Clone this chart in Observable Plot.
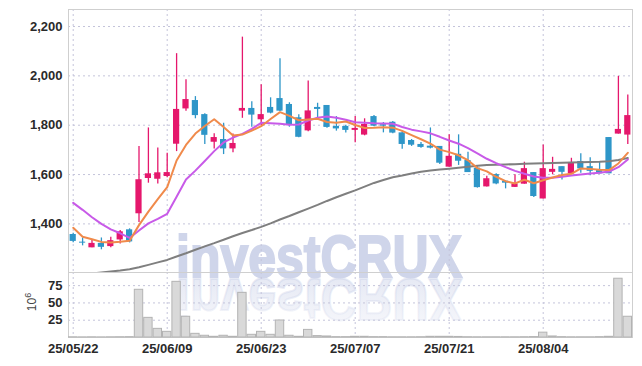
<!DOCTYPE html>
<html><head><meta charset="utf-8">
<script src="https://cdn.jsdelivr.net/npm/d3@7"></script>
<script src="https://cdn.jsdelivr.net/npm/@observablehq/plot@0.6"></script>
<style>
body{margin:0;background:#fff;}
#wrap{position:relative;width:642px;height:366px;overflow:hidden;}
#wm{position:absolute;left:0;top:0;}
#charts{position:absolute;left:0;top:0;}
#charts svg{display:block;background:transparent;}
</style></head>
<body><div id="wrap"><svg id="wm" width="642" height="366"></svg><div id="charts"></div></div>
<script>
const dates = ["25/05/22","25/05/23","25/05/26","25/05/27","25/05/28","25/05/29","25/05/30","25/06/02","25/06/04","25/06/05",
"25/06/09","25/06/10","25/06/11","25/06/12","25/06/13","25/06/16","25/06/17","25/06/18","25/06/19","25/06/20",
"25/06/23","25/06/24","25/06/25","25/06/26","25/06/27","25/06/30","25/07/01","25/07/02","25/07/03","25/07/04",
"25/07/07","25/07/08","25/07/09","25/07/10","25/07/11","25/07/14","25/07/15","25/07/16","25/07/17","25/07/18",
"25/07/21","25/07/22","25/07/23","25/07/24","25/07/25","25/07/28","25/07/29","25/07/30","25/07/31","25/08/01",
"25/08/04","25/08/05","25/08/06","25/08/07","25/08/08","25/08/11","25/08/12","25/08/13","25/08/14","25/08/18"];
const open = [1357,1326,1303,1321,1308,1335,1376,1441,1584,1581,1592,1723,1866,1900,1843,1731,1742,1704,1857,1868,
1822,1872,1908,1884,1830,1777,1872,1880,1795,1795,1779,1760,1835,1802,1812,1769,1738,1722,1715,1714,
1630,1682,1657,1626,1550,1600,1573,1548,1561,1608,1501,1609,1632,1603,1653,1632,1616,1750,1764,1760];
const high = [1362,1343,1335,1343,1346,1373,1380,1714,1789,1708,1686,2090,1984,1916,1846,1765,1808,1764,2157,1895,
1964,1911,2069,1891,1842,1979,1889,1880,1835,1800,1835,1826,1839,1811,1815,1773,1742,1730,1789,1714,
1761,1761,1690,1632,1593,1603,1573,1599,1650,1608,1720,1670,1632,1666,1684,1668,1653,1750,1998,1922];
const low = [1324,1311,1303,1295,1303,1319,1323,1406,1565,1562,1587,1693,1857,1826,1722,1704,1681,1688,1828,1792,
1799,1846,1856,1792,1749,1773,1826,1788,1776,1768,1729,1757,1794,1769,1765,1703,1714,1707,1704,1641,
1630,1637,1608,1545,1550,1559,1542,1548,1561,1507,1501,1599,1578,1603,1605,1595,1603,1603,1764,1722];
const close = [1329,1322,1321,1305,1332,1368,1327,1579,1603,1607,1608,1864,1904,1839,1759,1750,1704,1726,1868,1841,
1843,1849,1857,1800,1751,1858,1864,1791,1785,1779,1787,1803,1796,1796,1768,1722,1719,1710,1707,1646,
1674,1654,1608,1547,1583,1562,1565,1562,1624,1511,1624,1621,1609,1649,1623,1613,1603,1603,1783,1839];
const volume = [0.3,0.2,0.3,0.2,0.3,0.4,0.5,69,28.4,12.5,8.2,80.5,30,5.3,2.5,1,2.5,1,64.6,3.9,
8.2,3.9,24.6,2.5,1,11,2,1.5,0.5,0.5,1,1,0.5,0.5,0.3,0.3,0.3,0.4,1,1,
1,0.8,0.4,0.3,0.3,0.3,0.3,0.3,0.4,0.6,7,1.5,0.5,0.3,0.3,0.3,0.5,1,85,30];
const ma5 = [1384,1348,1338,1327,1325,1328,1332,1395,1450,1500,1549,1657,1720,1766,1797,1824,1793,1758,1762,1778,
1796,1825,1853,1838,1820,1823,1826,1813,1810,1815,1801,1789,1790,1792,1790,1777,1760,1743,1725,1701,
1691,1678,1658,1626,1613,1591,1573,1564,1579,1565,1577,1588,1598,1603,1625,1623,1619,1618,1645,1688];
const ma20 = [1485,1457,1427,1400,1378,1362,1343,1373,1402,1420,1441,1510,1580,1616,1655,1695,1730,1750,1765,1785,
1810,1808,1806,1802,1803,1819,1830,1835,1830,1822,1812,1810,1808,1807,1806,1793,1782,1775,1767,1753,
1738,1725,1707,1686,1664,1646,1630,1615,1603,1592,1587,1587,1591,1596,1600,1604,1607,1612,1630,1661];
const ma60 = [1192,1195,1199,1203,1207,1211,1216,1224,1234,1244,1254,1268,1281,1295,1309,1322,1336,1350,1363,1375,
1388,1402,1418,1432,1447,1462,1477,1493,1508,1522,1536,1551,1566,1578,1589,1596,1604,1611,1616,1620,
1624,1628,1632,1636,1639,1640,1641,1642,1644,1645,1646,1647,1648,1649,1650,1651,1652,1654,1659,1667];
const xTickLabels = ["25/05/22","25/06/09","25/06/23","25/07/07","25/07/21","25/08/04"];
const priceTicks = [1400,1600,1800,2000,2200];
const volTicks = [25,50,75];
const watermark = "investCRUX";

const rows = dates.map((d,i)=>({date:d,open:open[i],high:high[i],low:low[i],close:close[i],vol:volume[i],ma5:ma5[i],ma20:ma20[i],ma60:ma60[i]}));
const UP="#e5176c", DOWN="#2e96c8";
const colorOf = d => d.close >= d.open ? UP : DOWN;
const grid = {stroke:"#c4c4da", strokeDasharray:"2,3", strokeWidth:1};
const font = "'Liberation Sans', Arial, sans-serif";
const xBase = {type:"band", domain:dates, padding:0, round:false};
const axisStyle = {background:"transparent", fontFamily:font, fontSize:"13px", fontWeight:"bold", color:"#2a2a2a"};

const price = Plot.plot({
  width:642, height:272, marginTop:9, marginBottom:0, marginLeft:68, marginRight:10,
  style:axisStyle,
  color:{type:"identity"},
  x:{...xBase, axis:null},
  y:{domain:[1203,2269], ticks:priceTicks, tickFormat:d3.format(","), tickSize:0, tickPadding:6, label:null},
  marks:[
    Plot.ruleY(priceTicks, grid),
    Plot.ruleX(xTickLabels, grid),
    Plot.frame({stroke:"#cfcfcf"}),
    Plot.ruleX(rows,{x:"date",y1:"low",y2:"high",stroke:colorOf,strokeWidth:1.3}),
    Plot.barY(rows,{x:"date",y1:"open",y2:"close",fill:colorOf,insetLeft:1.6,insetRight:1.6}),
    Plot.line(rows,{x:"date",y:"ma60",stroke:"#7f7f7f",strokeWidth:2,clip:true}),
    Plot.line(rows,{x:"date",y:"ma20",stroke:"#c85ae8",strokeWidth:2}),
    Plot.line(rows,{x:"date",y:"ma5",stroke:"#f08a4b",strokeWidth:2})
  ]
});

const vol = Plot.plot({
  width:642, height:94, marginTop:0, marginBottom:29, marginLeft:68, marginRight:10,
  style:axisStyle,
  x:{...xBase, ticks:xTickLabels, tickSize:0, tickPadding:6, label:null},
  y:{domain:[0,94], ticks:volTicks, tickSize:0, tickPadding:6, label:null},
  marks:[
    Plot.ruleY(volTicks, grid),
    Plot.ruleX(xTickLabels, grid),
    Plot.frame({stroke:"#cfcfcf"}),
    Plot.barY(rows,{x:"date",y:"vol",fill:"#d9d9d9",stroke:"#b3b3b3",strokeWidth:1,insetLeft:0.5,insetRight:0.5})
  ]
});
const lab = d3.select(vol).append("text")
  .attr("transform","translate(36,30) rotate(-90)")
  .attr("text-anchor","middle")
  .attr("fill","#444").style("font-family",font).style("font-weight","normal").style("font-size","12px");
lab.append("tspan").text("10");
lab.append("tspan").attr("dy","-5").style("font-size","9px").text("6");

document.getElementById("charts").append(price, vol);

// watermark
const wm = d3.select("#wm");
const g = wm.append("defs").append("linearGradient").attr("id","fade").attr("x1",0).attr("y1",0).attr("x2",0).attr("y2",1);
g.append("stop").attr("offset",0).attr("stop-color","#cfd5ea").attr("stop-opacity",0.15);
g.append("stop").attr("offset",1).attr("stop-color","#cfd5ea").attr("stop-opacity",0.6);
const wmStyle = s => s.attr("x",176).attr("y",277).attr("textLength",286).attr("lengthAdjust","spacingAndGlyphs")
  .style("font-family","'Liberation Sans', Arial, sans-serif").style("font-weight","bold").style("font-size","60px")
  .attr("stroke-width",2).text(watermark);
wm.append("text").call(wmStyle).attr("fill","#cfd5ea").attr("stroke","#cfd5ea");
wm.append("text").call(wmStyle).attr("fill","url(#fade)").attr("stroke","url(#fade)").attr("transform","translate(0,556) scale(1,-1)");
</script>
</body></html>
